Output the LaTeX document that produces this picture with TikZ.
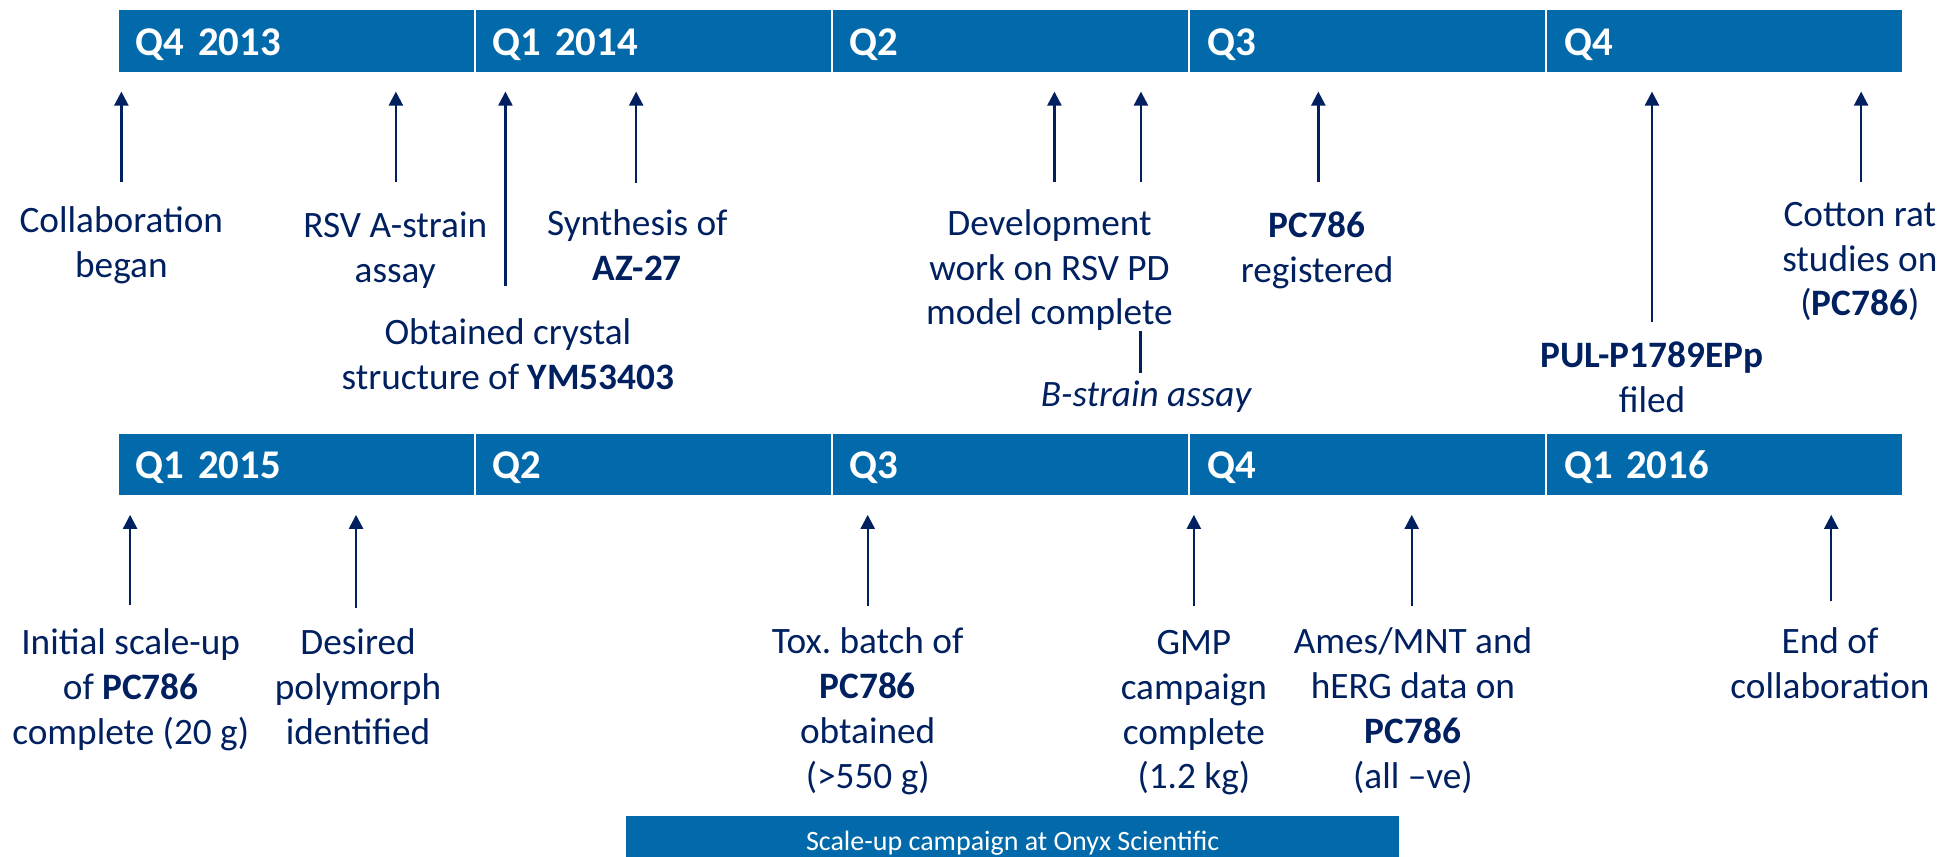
\documentclass[tikz,border=0pt]{standalone}
\usepackage{fontspec}
\setmainfont{Carlito}
\usetikzlibrary{arrows.meta}
\frenchspacing

\definecolor{barblue}{RGB}{2,106,170}
\definecolor{navy}{RGB}{0,32,96}

\begin{document}
\begin{tikzpicture}[x=0.25mm, y=-0.25mm,
        quarter/.style={rectangle, anchor=north west, fill=barblue, draw=white, line width=1.1pt,
            minimum width=71.7mm, minimum height=12.73mm, text width=64.5mm, inner xsep=3.6mm, inner ysep=0pt,
            align=left, text=white, font=\fontsize{23.3}{28}\selectfont\bfseries, text height=5.9mm, text depth=0pt},
        event/.style={anchor=north, inner sep=0pt, align=center, text=navy, font=\fontsize{21.3}{25.6}\selectfont},
        tick/.style={draw=navy, line width=1.35pt, -{Triangle[length=2.8mm, width=2.8mm]}, shorten >=3.6mm},
        link/.style={draw=navy, line width=1.7pt}]
        \useasboundingbox (0,0) rectangle (1568,688);

        % quarters, 2013/14 row and 2015/16 row
        \foreach \q [count=\i from 0] in {Q4 2013,Q1 2014,Q2,Q3,Q4}
            \node[quarter] (top\i) at (94+\i*286.8, 6.7) {\q};
        \foreach \q [count=\i from 0] in {Q1 2015,Q2,Q3,Q4,Q1 2016}
            \node[quarter] (bot\i) at (94+\i*286.8, 346.7) {\q};

        % arrows up to the first row
        \foreach \n/\x/\y in {collab/97.5/146, rsva/318/146, crystal/406/230, azsyn/511/147, devel/847/146,
                bstrain/916.5/146, regist/1059/146, pulfile/1327/259, cotton/1495/146} {
            \coordinate (f\n) at (\x,\y);
            \draw[tick] (f\n) -- (f\n |- top0.south);
        }

        \node[event] (collab) at (97.5,166) {Collaboration\\began};
        \node[event] (rsva) at (317.5,169.7) {RSV A-strain\\assay};
        \node[event] (crystal) at (408,256) {Obtained crystal\\structure of \textbf{YM53403}};
        \node[event] (azsyn) at (512,168) {Synthesis of\\\textbf{AZ-27}};
        \node[event] (devel) at (843,168) {Development\\work on RSV PD\\model complete};
        \node[event] (bstrain) at (921,305.7) {\textit{B-strain assay}};
        \node[event] (regist) at (1058,170) {\textbf{PC786}\\registered};
        \node[event] (pulfile) at (1327,274) {\textbf{PUL-P1789EPp}\\filed};
        \node[event] (cotton) at (1494,162) {Cotton rat\\studies on\\(\textbf{PC786})};

        \coordinate (bsfoot) at (916.5,299.5);
        \draw[link] (bsfoot) -- (bsfoot |- devel.south);

        % arrows up to the second row
        \foreach \n/\x/\y in {initial/104.5/486, desired/286/488, toxbatch/697/487, gmp/959/487,
                ames/1134/487, endcol/1471/483} {
            \coordinate (f\n) at (\x,\y);
            \draw[tick] (f\n) -- (f\n |- bot0.south);
        }

        \node[event] (initial) at (105,505) {Initial scale-up\\of \textbf{PC786}\\complete (20 g)};
        \node[event] (desired) at (287.6,505) {Desired\\polymorph\\identified};
        \node[event] (toxbatch) at (697,504) {Tox. batch of\\\textbf{PC786}\\obtained\\(>550 g)};
        \node[event] (gmp) at (959,506) {GMP\\campaign\\complete\\(1.2 kg)};
        \node[event] (ames) at (1135,504) {Ames/MNT and\\hERG data on\\\textbf{PC786}\\(all –ve)};
        \node[event] (endcol) at (1470,504) {End of\\collaboration};

        \node[anchor=north, fill=barblue, minimum width=155.25mm, minimum height=14mm, inner sep=0pt,
            text=white, font=\fontsize{16}{19}\selectfont, text height=0pt, text depth=0pt]
            (scaleup) at (813.5,655) {Scale-up campaign at Onyx Scientific};

\end{tikzpicture}
\end{document}
